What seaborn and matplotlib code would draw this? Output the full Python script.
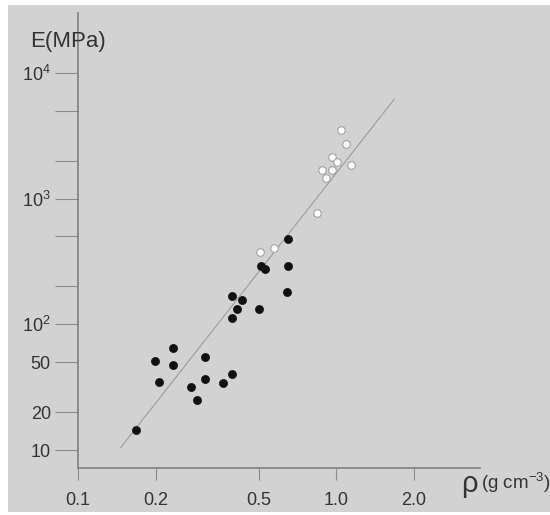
import matplotlib
matplotlib.use("Agg")
import pandas as pd
import seaborn as sns
from matplotlib import pyplot as plt
from matplotlib.patches import Rectangle
from matplotlib.ticker import NullLocator

# black points (porous samples)
foam_rho = [0.167, 0.199, 0.2065, 0.234, 0.234, 0.274, 0.288, 0.311, 0.311, 0.365,
            0.396, 0.396, 0.396, 0.414, 0.430, 0.502, 0.510, 0.530, 0.652, 0.646, 0.652]
foam_E = [14.4, 51.0, 34.6, 64.7, 47.2, 31.9, 25.1, 54.9, 36.9, 34.3,
          40.3, 169, 113, 133, 155, 131.5, 292, 274, 292, 181.5, 474]

# white points (dense samples)
dense_rho = [1.04, 1.09, 0.959, 1.006, 1.14, 0.880, 0.959, 0.915, 0.840, 0.508, 0.574]
dense_E = [3515, 2716, 2153, 1966, 1849, 1698, 1689, 1450, 773, 378, 406]

# fitted power-law line end points
fit_rho = [0.146, 1.68]
fit_E = [10.4, 6200]

x_ticks = [0.1, 0.2, 0.5, 1.0, 2.0]
x_labels = ['0.1', '0.2', '0.5', '1.0', '2.0']
y_ticks = [10, 20, 50, 100, 200, 500, 1000, 2000, 5000, 10000]
y_labels = ['10', '20', '50', '$10^2$', '', '', '$10^3$', '', '', '$10^4$']

sns.set_style("ticks")
plt.rcParams['font.family'] = ['Liberation Sans', 'DejaVu Sans']
plt.rcParams['mathtext.fontset'] = 'custom'
plt.rcParams['mathtext.rm'] = 'Liberation Sans'
plt.rcParams['mathtext.it'] = 'Liberation Sans'

bg = '#d2d2d2'
fig = plt.figure(figsize=(5.5, 5.15), dpi=100, facecolor='white')
fig.patches.append(Rectangle((8 / 550, 3 / 515), 1, 1 - 8 / 515, transform=fig.transFigure,
                             facecolor=bg, edgecolor='none', zorder=-10))
ax = fig.add_axes([78 / 550, 1 - 468 / 515, 402 / 550, 455 / 515])
ax.set_facecolor(bg)

df_foam = pd.DataFrame({'rho': foam_rho, 'E': foam_E})
df_dense = pd.DataFrame({'rho': dense_rho, 'E': dense_E})
df_fit = pd.DataFrame({'rho': fit_rho, 'E': fit_E})

sns.lineplot(data=df_fit, x='rho', y='E', ax=ax, color='#959595', linewidth=0.7, zorder=1)
sns.scatterplot(data=df_foam, x='rho', y='E', ax=ax, color='#111111', s=34,
                edgecolor='#111111', linewidth=0.5, zorder=3)
sns.scatterplot(data=df_dense, x='rho', y='E', ax=ax, color='white', s=30,
                edgecolor='#a0a0a0', linewidth=0.8, zorder=3)

ax.set_xscale('log')
ax.set_yscale('log')
ax.set_xlim(0.1, 3.6)
ax.set_ylim(7.2, 29900)

ax.set_xticks(x_ticks)
ax.set_xticklabels(x_labels)
ax.set_yticks(y_ticks)
ax.set_yticklabels(y_labels)
ax.xaxis.set_minor_locator(NullLocator())
ax.yaxis.set_minor_locator(NullLocator())
ax.tick_params(axis='y', direction='out', length=16.5, width=0.8, color='#8a8a8a',
               labelsize=13, labelcolor='#333333', pad=3)
ax.tick_params(axis='x', direction='out', length=8.5, width=0.8, color='#8a8a8a',
               labelsize=13, labelcolor='#333333', pad=9)
ax.set_xlabel('')
ax.set_ylabel('')

for side in ['top', 'right']:
    ax.spines[side].set_visible(False)
for side in ['left', 'bottom']:
    ax.spines[side].set_color('#808080')
    ax.spines[side].set_linewidth(1.2)

fig.text(30 / 550, 1 - 42 / 515, 'E(MPa)', fontsize=16, color='#333333', ha='left', va='center')
fig.text(461 / 550, 1 - 484 / 515, 'ρ', fontsize=21, color='#333333', ha='left', va='center')
fig.text(481 / 550, 1 - 483 / 515, '(g cm$^{-3}$)', fontsize=13.5, color='#333333', ha='left', va='center')

fig.savefig('out.png', dpi=100, facecolor='white')
